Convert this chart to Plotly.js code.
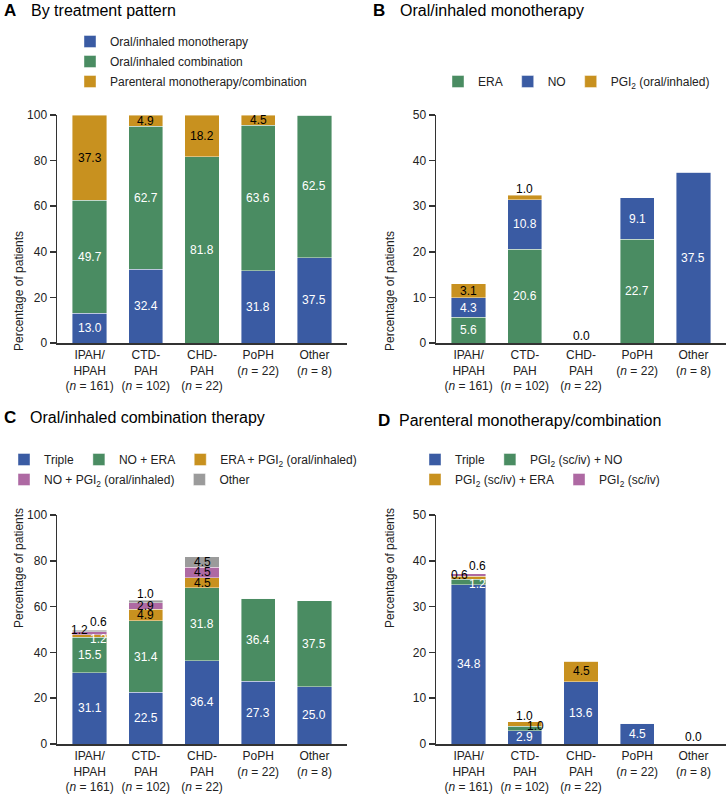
<!DOCTYPE html>
<html>
<head>
<meta charset="utf-8">
<script src="https://cdn.plot.ly/plotly-3.0.1.min.js"></script>
<style>
body { margin: 0; background: #fff; }
#chart { width: 728px; height: 794px; }
</style>
</head>
<body>
<div id="chart"></div>
<script>
// categories (tick labels)
var categories = [
    "IPAH/<br>HPAH<br>(<i>n</i> = 161)",
    "CTD-<br>PAH<br>(<i>n</i> = 102)",
    "CHD-<br>PAH<br>(<i>n</i> = 22)",
    "PoPH<br>(<i>n</i> = 22)",
    "Other<br>(<i>n</i> = 8)"
];

// A - by treatment pattern
var oralMono = [13.0, 32.4, 0, 31.8, 37.5];
var oralCombo = [49.7, 62.7, 81.8, 63.6, 62.5];
var parenteral = [37.3, 4.9, 18.2, 4.5, 0];

// B - oral/inhaled monotherapy
var monoERA = [5.6, 20.6, 0, 22.7, 0];
var monoNO = [4.3, 10.8, 0, 9.1, 37.5];
var monoPGI2 = [3.1, 1.0, 0, 0, 0];

// C - oral/inhaled combination therapy
var comboTriple = [31.1, 22.5, 36.4, 27.3, 25.0];
var comboNOERA = [15.5, 31.4, 31.8, 36.4, 37.5];
var comboERAPGI2 = [1.2, 4.9, 4.5, 0, 0];
var comboNOPGI2 = [1.2, 2.9, 4.5, 0, 0];
var comboOther = [0.6, 1.0, 4.5, 0, 0];

// D - parenteral monotherapy/combination
var parTriple = [34.8, 2.9, 13.6, 4.5, 0];
var parPGI2NO = [1.2, 1.0, 0, 0, 0];
var parPGI2ERA = [0.6, 1.0, 4.5, 0, 0];
var parPGI2 = [0.6, 0, 0, 0, 0];

var BLUE = "#3a5ba3", GREEN = "#4a8c62", GOLD = "#c8911f", PINK = "#ae69a3", GREY = "#9b9b9b";
var FONT = "Liberation Sans, Arial, sans-serif";
var W = 728, H = 794;

function px(x) { return x / W; }
function py(y) { return 1 - y / H; }

var panels = [
    {
        ax: "", legend: "legend",
        series: [
            {name: "Oral/inhaled monotherapy", values: oralMono, color: BLUE, text: "white"},
            {name: "Oral/inhaled combination", values: oralCombo, color: GREEN, text: "white"},
            {name: "Parenteral monotherapy/combination", values: parenteral, color: GOLD, text: "black"}
        ],
        special: {}
    },
    {
        ax: "2", legend: "legend2",
        series: [
            {name: "ERA", values: monoERA, color: GREEN, text: "white"},
            {name: "NO", values: monoNO, color: BLUE, text: "white"},
            {name: "PGI<sub>2</sub> (oral/inhaled)", values: monoPGI2, color: GOLD, text: "black"}
        ],
        special: {"1,2": {above: true}}
    },
    {
        ax: "3",
        series: [
            {name: "Triple", values: comboTriple, color: BLUE, text: "white", legend: "legend3"},
            {name: "NO + ERA", values: comboNOERA, color: GREEN, text: "white", legend: "legend3"},
            {name: "ERA + PGI<sub>2</sub> (oral/inhaled)", values: comboERAPGI2, color: GOLD, text: "black", legend: "legend3"},
            {name: "NO + PGI<sub>2</sub> (oral/inhaled)", values: comboNOPGI2, color: PINK, text: "black", legend: "legend4"},
            {name: "Other", values: comboOther, color: GREY, text: "black", legend: "legend4"}
        ],
        special: {
            "0,2": {dx: 9, dy: -3, color: "white"},
            "0,3": {dx: -10, dy: 3},
            "0,4": {dx: 9, dy: 9},
            "1,4": {above: true}
        }
    },
    {
        ax: "4",
        series: [
            {name: "Triple", values: parTriple, color: BLUE, text: "white", legend: "legend5"},
            {name: "PGI<sub>2</sub> (sc/iv) + NO", values: parPGI2NO, color: GREEN, text: "white", legend: "legend5"},
            {name: "PGI<sub>2</sub> (sc/iv) + ERA", values: parPGI2ERA, color: GOLD, text: "black", legend: "legend6"},
            {name: "PGI<sub>2</sub> (sc/iv)", values: parPGI2, color: PINK, text: "black", legend: "legend6"}
        ],
        special: {
            "0,1": {dx: 9, dy: -2, color: "white"},
            "0,2": {dx: -9, dy: 3},
            "0,3": {dx: 9, dy: 9},
            "1,1": {dx: 11, dy: 2, color: "black"},
            "1,2": {above: true}
        }
    }
];

var data = [];
var annotations = [];

panels.forEach(function (p) {
    var xref = "x" + p.ax, yref = "y" + p.ax;
    var cum = [0, 0, 0, 0, 0];
    p.series.forEach(function (s, si) {
        data.push({
            type: "bar",
            x: categories,
            y: s.values,
            name: s.name,
            xaxis: xref,
            yaxis: yref,
            legend: s.legend || p.legend,
            legendgroup: "g" + p.ax + "_" + si,
            marker: {color: s.color, line: {color: "rgba(255,255,255,0.7)", width: 0.6}},
            hoverinfo: "y+name"
        });
        s.values.forEach(function (v, ci) {
            if (v > 0) {
                var sp = p.special[ci + "," + si] || {};
                var a = {
                    xref: xref, yref: yref, x: categories[ci],
                    text: v.toFixed(1), showarrow: false,
                    font: {family: FONT, size: 12, color: sp.color || s.text}
                };
                if (sp.above) {
                    a.y = cum[ci] + v;
                    a.yanchor = "bottom";
                    a.yshift = -3;
                    a.font.color = "black";
                } else {
                    a.y = cum[ci] + v / 2;
                    a.yanchor = "middle";
                    a.xshift = sp.dx || 0;
                    a.yshift = sp.dy || 0;
                }
                annotations.push(a);
            }
            cum[ci] += v;
        });
    });
    // empty bars get a 0.0 label
    cum.forEach(function (t, ci) {
        if (t === 0) {
            annotations.push({
                xref: xref, yref: yref, x: categories[ci], y: 0, yanchor: "bottom", yshift: -2,
                text: "0.0", showarrow: false, font: {family: FONT, size: 12, color: "black"}
            });
        }
    });
});

// panel titles
function title(letter, text, xl, xt, y) {
    annotations.push({xref: "paper", yref: "paper", x: px(xl), y: py(y), xanchor: "left", yanchor: "middle",
        text: "<b>" + letter + "</b>", showarrow: false, font: {family: FONT, size: 17, color: "black"}});
    annotations.push({xref: "paper", yref: "paper", x: px(xt), y: py(y), xanchor: "left", yanchor: "middle",
        text: text, showarrow: false, font: {family: FONT, size: 16, color: "black"}});
}
title("A", "By treatment pattern", 2, 29, 11);
title("B", "Oral/inhaled monotherapy", 371, 398, 11);
title("C", "Oral/inhaled combination therapy", 2, 28, 417);
title("D", "Parenteral monotherapy/combination", 376, 397, 420);

// y-axis titles
[[10, 229], [390, 229], [10, 630], [390, 630]].forEach(function (c) {
    annotations.push({xref: "paper", yref: "paper", x: px(c[0]), y: py(c[1]), textangle: -90,
        text: "Percentage of patients", showarrow: false, font: {family: FONT, size: 12, color: "#222"}});
});

function xAxis(domain, anchor) {
    return {
        domain: domain, anchor: anchor, type: "category", range: [-0.58, 4.58],
        showline: true, linecolor: "#333", linewidth: 1.5, ticks: "", showgrid: false,
        tickfont: {family: FONT, size: 12, color: "#222"}, fixedrange: true
    };
}
function yAxis(domain, anchor, max, dtick) {
    return {
        domain: domain, anchor: anchor, range: [0, max], dtick: dtick,
        showline: true, linecolor: "#333", linewidth: 1.5, ticks: "outside", ticklen: 6,
        tickcolor: "#333", tickwidth: 1.5, showgrid: false, zeroline: false,
        tickfont: {family: FONT, size: 12, color: "#222"}, fixedrange: true
    };
}

var legendBase = {
    font: {family: FONT, size: 12, color: "#222"}, bgcolor: "rgba(0,0,0,0)",
    xanchor: "left", yanchor: "top", traceorder: "normal", itemclick: false, itemdoubleclick: false
};
function legendAt(x, y, orientation, extra) {
    return Object.assign({}, legendBase, {x: px(x), y: py(y), orientation: orientation}, extra || {});
}

var topDom = [py(343), py(115)];
var botDom = [py(744), py(515)];
var leftDom = [px(57), px(347)];
var rightDom = [px(436), px(726)];

var layout = {
    width: W, height: H,
    margin: {l: 0, r: 0, t: 0, b: 0},
    paper_bgcolor: "white", plot_bgcolor: "white",
    font: {family: FONT, size: 12, color: "#222"},
    barmode: "stack", bargap: 0.39,
    xaxis: xAxis(leftDom, "y"), yaxis: yAxis(topDom, "x", 100, 20),
    xaxis2: xAxis(rightDom, "y2"), yaxis2: yAxis(topDom, "x2", 50, 10),
    xaxis3: xAxis(leftDom, "y3"), yaxis3: yAxis(botDom, "x3", 100, 20),
    xaxis4: xAxis(rightDom, "y4"), yaxis4: yAxis(botDom, "x4", 50, 10),
    legend: legendAt(70, 27, "v", {traceorder: "grouped", tracegroupgap: 1}),
    legend2: legendAt(438, 67, "h"),
    legend3: legendAt(4, 445, "h"),
    legend4: legendAt(4, 465, "h"),
    legend5: legendAt(415, 445, "h"),
    legend6: legendAt(415, 465, "h"),
    annotations: annotations
};

Plotly.newPlot("chart", data, layout, {displayModeBar: false, staticPlot: true});
</script>
</body>
</html>
